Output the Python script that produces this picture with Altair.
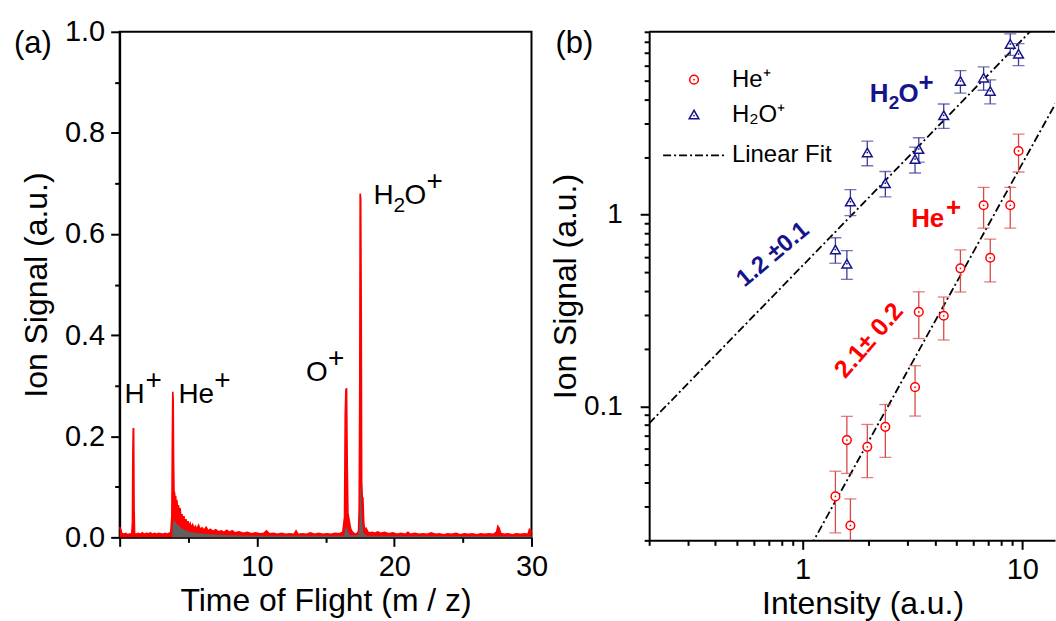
import altair as alt
import pandas as pd

FONT = "Liberation Sans"

# ---------------- panel (a): time-of-flight mass spectrum ----------------
tof_red = [
    0.00, 0.08, 0.15, 0.30, 0.45, 0.60, 0.75, 0.88, 0.93, 0.96, 0.99, 1.02, 1.05, 1.09,
    1.20, 1.35, 1.50, 1.65, 1.80, 1.95, 2.10, 2.25, 2.40, 2.55, 2.70, 2.85, 3.00, 3.15,
    3.30, 3.45, 3.60, 3.72, 3.80, 3.84, 3.87, 3.90, 3.93, 3.96, 4.00, 4.04, 4.08, 4.12,
    4.17, 4.22, 4.28, 4.34, 4.40, 4.47, 4.54, 4.60, 4.68, 4.75, 4.83, 4.90, 4.98, 5.06,
    5.14, 5.22, 5.32, 5.42, 5.52, 5.62, 5.75, 5.88, 6.00, 6.15, 6.30, 6.45, 6.60, 6.80,
    7.00, 7.20, 7.40, 7.60, 7.80, 8.00, 8.20, 8.40, 8.70, 9.00, 9.30, 9.60, 9.90, 10.20,
    10.50, 10.70, 10.90, 11.20, 11.50, 11.80, 12.10, 12.40, 12.70, 12.85, 13.00, 13.30,
    13.60, 13.90, 14.20, 14.50, 14.80, 15.10, 15.40, 15.70, 16.00, 16.25, 16.38, 16.43,
    16.48, 16.53, 16.58, 16.63, 16.68, 16.74, 16.82, 16.92, 17.05, 17.20, 17.30, 17.40,
    17.45, 17.49, 17.52, 17.56, 17.60, 17.63, 17.67, 17.72, 17.78, 17.85, 17.95, 18.10,
    18.20, 18.40, 18.60, 18.80, 19.00, 19.30, 19.60, 19.90, 20.20, 20.50, 20.80, 21.00,
    21.20, 21.50, 21.80, 22.10, 22.40, 22.70, 23.00, 23.30, 23.60, 23.90, 24.20, 24.50,
    24.80, 25.10, 25.40, 25.70, 26.00, 26.30, 26.60, 26.90, 27.20, 27.45, 27.55, 27.65,
    27.75, 28.00, 28.30, 28.60, 28.90, 29.20, 29.50, 29.75, 29.85, 29.95, 30.00,
]
signal_red = [
    0.020, 0.016, 0.008, 0.006, 0.008, 0.005, 0.007, 0.006, 0.030, 0.165, 0.216, 0.214, 0.060, 0.008,
    0.006, 0.008, 0.006, 0.009, 0.006, 0.008, 0.007, 0.009, 0.006, 0.008, 0.006, 0.008, 0.007, 0.006,
    0.008, 0.006, 0.008, 0.010, 0.040, 0.200, 0.288, 0.270, 0.150, 0.092, 0.088, 0.072, 0.082, 0.066,
    0.074, 0.055, 0.064, 0.048, 0.058, 0.040, 0.046, 0.034, 0.042, 0.028, 0.036, 0.024, 0.032, 0.021,
    0.027, 0.019, 0.025, 0.017, 0.022, 0.016, 0.024, 0.015, 0.019, 0.014, 0.020, 0.013, 0.016, 0.012,
    0.015, 0.011, 0.013, 0.010, 0.014, 0.010, 0.013, 0.009, 0.011, 0.008, 0.010, 0.007, 0.009, 0.007,
    0.008, 0.013, 0.007, 0.008, 0.006, 0.008, 0.006, 0.007, 0.006, 0.013, 0.006, 0.007,
    0.006, 0.009, 0.006, 0.008, 0.006, 0.007, 0.006, 0.008, 0.007, 0.010, 0.040, 0.240,
    0.292, 0.295, 0.140, 0.048, 0.040, 0.030, 0.018, 0.012, 0.008, 0.006, 0.008, 0.012,
    0.060, 0.300, 0.680, 0.670, 0.430, 0.110, 0.080, 0.078, 0.030, 0.014, 0.018, 0.010,
    0.009, 0.010, 0.008, 0.011, 0.008, 0.010, 0.007, 0.009, 0.006, 0.008, 0.006, 0.010,
    0.006, 0.008, 0.006, 0.007, 0.006, 0.009, 0.006, 0.007, 0.005, 0.007, 0.006, 0.008,
    0.005, 0.007, 0.006, 0.007, 0.005, 0.007, 0.006, 0.007, 0.006, 0.010, 0.022, 0.018,
    0.008, 0.006, 0.007, 0.005, 0.007, 0.006, 0.007, 0.006, 0.016, 0.014, 0.010,
]
tof_gray = [0.00, 3.82, 3.86, 3.92, 3.98, 4.05, 4.15, 4.30, 4.50, 4.80, 5.20, 5.80, 6.50, 8.00,
            10.00, 16.35, 16.45, 16.55, 16.65, 16.80, 17.40, 17.47, 17.52, 17.57, 17.63, 17.75,
            18.00, 30.00]
signal_gray = [0.000, 0.000, 0.020, 0.034, 0.030, 0.033, 0.026, 0.024, 0.018, 0.014, 0.010, 0.008,
               0.006, 0.004, 0.003, 0.003, 0.018, 0.020, 0.010, 0.004, 0.004, 0.060, 0.100, 0.096,
               0.040, 0.008, 0.003, 0.002]

# peak labels: base text, anchor (tof, signal)
peak_text = ["H", "He", "O", "H"]
peak_tof = [0.36, 4.28, 13.58, 18.5]
peak_sig = [0.266, 0.266, 0.309, 0.66]

# ---------------- panel (b): intensity dependence ----------------
intensity = [1.41, 1.59, 1.65, 1.97, 2.38, 3.25, 3.38, 4.39, 5.23, 6.67, 7.15, 8.82, 9.62]
he_signal = [0.0339, 0.0667, 0.0239, 0.0615, 0.0782, 0.126, 0.311, 0.297, 0.525, 1.12, 0.596, 1.12, 2.15]
he_error = [0.012, 0.022, 0.009, 0.019, 0.024, 0.037, 0.085, 0.075, 0.13, 0.27, 0.15, 0.27, 0.48]
h2o_signal = [0.658, 0.555, 1.17, 2.11, 1.46, 1.95, 2.20, 3.30, 4.98, 5.18, 4.42, 7.78, 6.90]
h2o_error = [0.10, 0.095, 0.18, 0.31, 0.22, 0.30, 0.32, 0.48, 0.67, 0.72, 0.63, 1.0, 0.9]

# power-law fits (straight lines on log-log axes), given by their end points
fit_h2o_x = [0.2, 15.0]
fit_h2o_y = [0.0815, 13.2]
fit_he_x = [1.0, 15.0]
fit_he_y = [0.0157, 4.27]

RED = "#ff0000"
NAVY = "#14148c"
DASHDOT = [8, 3, 2, 3]

# ---------------- sizes ----------------
WA, HA = 413, 507
WB, HB = 407, 510
GAP = 118
LEFT, TOP, BOTTOM = 118, 29, 82

# ---------------- panel (a) ----------------
df_red = pd.DataFrame({"tof": tof_red, "signal": signal_red})
df_gray = pd.DataFrame({"tof": tof_gray, "signal": signal_gray})

x_a = alt.X(
    "tof:Q",
    scale=alt.Scale(domain=[0, 30], nice=False, zero=False),
    axis=alt.Axis(
        title="Time of Flight (m / z)",
        values=[0, 5, 10, 15, 20, 25, 30],
        labelExpr="datum.value % 10 == 0 && datum.value > 0 ? datum.label : ''",
        tickSize={"condition": {"test": "datum.value % 10 == 0", "value": 9}, "value": 5},
        format="d",
        labelFlush=False,
        labelOverlap=False,
        labelPadding=6,
        titlePadding=4,
    ),
)
y_a = alt.Y(
    "signal:Q",
    scale=alt.Scale(domain=[0, 1], nice=False),
    axis=alt.Axis(
        title="Ion Signal (a.u.)",
        values=[0, 0.1, 0.2, 0.3, 0.4, 0.5, 0.6, 0.7, 0.8, 0.9, 1.0],
        labelExpr="round(datum.value * 10) % 2 == 0 ? format(datum.value, '.1f') : ''",
        tickSize={"condition": {"test": "round(datum.value * 10) % 2 == 0", "value": 9}, "value": 5},
        labelOverlap=False,
        labelPadding=6,
        titlePadding=11,
    ),
)

red_area = alt.Chart(df_red).mark_area(color=RED).encode(x=x_a, y=y_a)
gray_area = alt.Chart(df_gray).mark_area(color="#606060").encode(x=x_a, y=y_a)
red_line = alt.Chart(df_red).mark_line(color=RED, strokeWidth=1.6).encode(x=x_a, y=y_a)

df_peaks = pd.DataFrame({"text": peak_text, "tof": peak_tof, "signal": peak_sig})
peak_labels = alt.Chart(df_peaks).mark_text(
    font=FONT, fontSize=28, align="left", baseline="alphabetic", color="black"
).encode(x=x_a, y=y_a, text="text:N")


def piece(row, text, dx, dy, size=28):
    d = df_peaks.iloc[[row]]
    return alt.Chart(d).mark_text(
        text=text, font=FONT, fontSize=size, align="left", baseline="alphabetic",
        color="black", dx=dx, dy=dy,
    ).encode(x=x_a, y=y_a)


peak_pieces = [
    piece(0, "+", 21, -14),
    piece(1, "+", 36, -14),
    piece(2, "+", 22, -14),
    piece(3, "2", 20, 8, 21),
    piece(3, "O", 31, 0),
    piece(3, "+", 53, -14),
]

one = pd.DataFrame({"k": [0]})
tag_a = alt.Chart(one).mark_text(
    text="(a)", font=FONT, fontSize=31, align="left", baseline="middle", color="black"
).encode(x=alt.value(-106), y=alt.value(12))
# white anchor fixing the top-left corner of the canvas
corner_a = alt.Chart(one).mark_rule(color="white", strokeWidth=1).encode(
    x=alt.value(-LEFT), x2=alt.value(-LEFT + 1), y=alt.value(-TOP))

panel_a = alt.layer(
    red_area, gray_area, red_line, peak_labels, *peak_pieces, tag_a, corner_a
).properties(width=WA, height=HA, view=alt.ViewBackground(stroke="black", strokeWidth=2))

# ---------------- panel (b) ----------------
df_he = pd.DataFrame({"intensity": intensity, "sig": he_signal, "err": he_error})
df_he["lo"] = df_he["sig"] - df_he["err"]
df_he["hi"] = df_he["sig"] + df_he["err"]
df_h2o = pd.DataFrame({"intensity": intensity, "sig": h2o_signal, "err": h2o_error})
df_h2o["lo"] = df_h2o["sig"] - df_h2o["err"]
df_h2o["hi"] = df_h2o["sig"] + df_h2o["err"]

x_ticks_b = [0.2, 0.3, 0.4, 0.5, 0.6, 0.7, 0.8, 0.9, 1, 2, 3, 4, 5, 6, 7, 8, 9, 10]
y_ticks_b = [0.02, 0.03, 0.04, 0.05, 0.06, 0.07, 0.08, 0.09,
             0.1, 0.2, 0.3, 0.4, 0.5, 0.6, 0.7, 0.8, 0.9,
             1, 2, 3, 4, 5, 6, 7, 8, 9]

scale_x_b = alt.Scale(type="log", domain=[0.2, 14.1], nice=False)
scale_y_b = alt.Scale(type="log", domain=[0.02, 9], nice=False)
axis_y_b = alt.Axis(
    title="Ion Signal (a.u.)",
    values=y_ticks_b,
    labelExpr="datum.value == 1 ? '1' : datum.value == 0.1 ? '0.1' : ''",
    tickSize={"condition": {"test": "datum.value == 1 || datum.value == 0.1", "value": 9}, "value": 5},
    labelOverlap=False,
    labelPadding=18,
    titlePadding=1,
    labelFontSize=28,
)

x_b = alt.X(
    "intensity:Q",
    scale=scale_x_b,
    axis=alt.Axis(
        title="Intensity (a.u.)",
        values=x_ticks_b,
        labelExpr="datum.value == 1 || datum.value == 10 ? format(datum.value, 'd') : ''",
        tickSize={"condition": {"test": "datum.value == 1 || datum.value == 10", "value": 9}, "value": 5},
        labelFlush=False,
        labelOverlap=False,
        labelPadding=6,
        titlePadding=4,
        titleX=214,
    ),
)
y_b = alt.Y("sig:Q", scale=scale_y_b, axis=axis_y_b)
y_lo = alt.Y("lo:Q", scale=scale_y_b, axis=axis_y_b)
y_hi = alt.Y("hi:Q", scale=scale_y_b, axis=axis_y_b)


def series(df, color, bar_color, shape, size):
    bars = alt.Chart(df).mark_rule(color=bar_color, strokeWidth=1.3, clip=True).encode(
        x=x_b, y=y_lo, y2="hi:Q")
    cap_lo = alt.Chart(df).mark_tick(color=bar_color, orient="horizontal", size=12, thickness=1.3,
                                     clip=True).encode(x=x_b, y=y_lo)
    cap_hi = alt.Chart(df).mark_tick(color=bar_color, orient="horizontal", size=12, thickness=1.3,
                                     clip=True).encode(x=x_b, y=y_hi)
    marks = alt.Chart(df).mark_point(shape=shape, size=size, filled=True, fill="white",
                                     stroke=color, strokeWidth=1.5, opacity=1).encode(x=x_b, y=y_b)
    dots = alt.Chart(df).mark_point(shape="circle", size=3, filled=True, color=color,
                                    opacity=1).encode(x=x_b, y=y_b)
    return [bars, cap_lo, cap_hi, marks, dots]


df_fit_h2o = pd.DataFrame({"intensity": fit_h2o_x, "sig": fit_h2o_y})
df_fit_he = pd.DataFrame({"intensity": fit_he_x, "sig": fit_he_y})
fit_h2o = alt.Chart(df_fit_h2o).mark_line(color="black", strokeWidth=1.8, strokeDash=DASHDOT,
                                          clip=True).encode(x=x_b, y=y_b)
fit_he = alt.Chart(df_fit_he).mark_line(color="black", strokeWidth=1.8, strokeDash=DASHDOT,
                                        clip=True).encode(x=x_b, y=y_b)


def note(x, y, text, color, size, dx=0, dy=0, angle=0, align="left", baseline="alphabetic"):
    d = pd.DataFrame({"intensity": [x], "sig": [y]})
    return alt.Chart(d).mark_text(
        text=text, font=FONT, fontSize=size, fontWeight="bold", color=color,
        dx=dx, dy=dy, angle=angle, align=align, baseline=baseline,
    ).encode(x=x_b, y=y_b)


notes_b = [
    note(2.02, 3.85, "H", NAVY, 26),
    note(2.02, 3.85, "2", NAVY, 19, dx=19, dy=7),
    note(2.02, 3.85, "O", NAVY, 26, dx=29),
    note(2.02, 3.85, "+", NAVY, 26, dx=49, dy=-12),
    note(3.12, 0.86, "He", RED, 26),
    note(3.12, 0.86, "+", RED, 26, dx=35, dy=-11),
    note(0.733, 0.619, "1.2 ±0.1", NAVY, 24, angle=320, align="center", baseline="middle"),
    note(2.0, 0.221, "2.1± 0.2", RED, 25, angle=311, align="center", baseline="middle"),
]

# legend, drawn in the top-left corner of the plot
leg_sym_he = alt.Chart(one).mark_point(shape="circle", size=75, filled=True, fill="white", stroke=RED,
                                       strokeWidth=1.5, opacity=1).encode(x=alt.value(45), y=alt.value(48))
leg_dot_he = alt.Chart(one).mark_point(shape="circle", size=3, filled=True, color=RED,
                                       opacity=1).encode(x=alt.value(45), y=alt.value(48))
leg_sym_h2o = alt.Chart(one).mark_point(shape="triangle-up", size=95, filled=True, fill="white",
                                        stroke=NAVY, strokeWidth=1.5, opacity=1).encode(
    x=alt.value(45), y=alt.value(83))
leg_dot_h2o = alt.Chart(one).mark_point(shape="circle", size=3, filled=True, color=NAVY,
                                        opacity=1).encode(x=alt.value(45), y=alt.value(84))
leg_line = alt.Chart(one).mark_rule(color="black", strokeWidth=1.8, strokeDash=DASHDOT).encode(
    x=alt.value(14), x2=alt.value(76), y=alt.value(124))
leg_text = [
    alt.Chart(one).mark_text(text=t, font=FONT, fontSize=24, align="left", baseline="middle",
                             color="black").encode(x=alt.value(83), y=alt.value(yy))
    for t, yy in [("He⁺", 48), ("H₂O⁺", 83), ("Linear Fit", 124)]
]

top_frame = alt.Chart(one).mark_rule(color="black", strokeWidth=2).encode(
    x=alt.value(0), x2=alt.value(WB), y=alt.value(0))
tag_b = alt.Chart(one).mark_text(
    text="(b)", font=FONT, fontSize=31, align="left", baseline="middle", color="black"
).encode(x=alt.value(-94), y=alt.value(12))
# white anchor fixing the bottom-right corner of the canvas
corner_b = alt.Chart(one).mark_rule(color="white", strokeWidth=1).encode(
    x=alt.value(WB - 1), x2=alt.value(WB), y=alt.value(HB + BOTTOM - 2))

panel_b = alt.layer(
    fit_h2o, fit_he,
    *series(df_he, RED, "#d84848", "circle", 75),
    *series(df_h2o, NAVY, "#3c3c96", "triangle-up", 95),
    *notes_b,
    leg_sym_he, leg_dot_he, leg_sym_h2o, leg_dot_h2o, leg_line, *leg_text,
    top_frame, tag_b, corner_b,
).properties(width=WB, height=HB)

chart = (
    alt.hconcat(panel_a, panel_b, spacing=GAP, bounds="flush")
    .properties(padding=0, background="white")
    .configure_view(stroke=None)
    .configure_axis(
        grid=False,
        domainColor="black",
        domainWidth=2,
        tickColor="black",
        tickWidth=2,
        labelFont=FONT,
        labelFontSize=29,
        labelColor="black",
        titleFont=FONT,
        titleFontSize=32,
        titleFontWeight="normal",
        titleColor="black",
    )
)

chart.save("out.html", embed_options={"renderer": "svg", "actions": False})
